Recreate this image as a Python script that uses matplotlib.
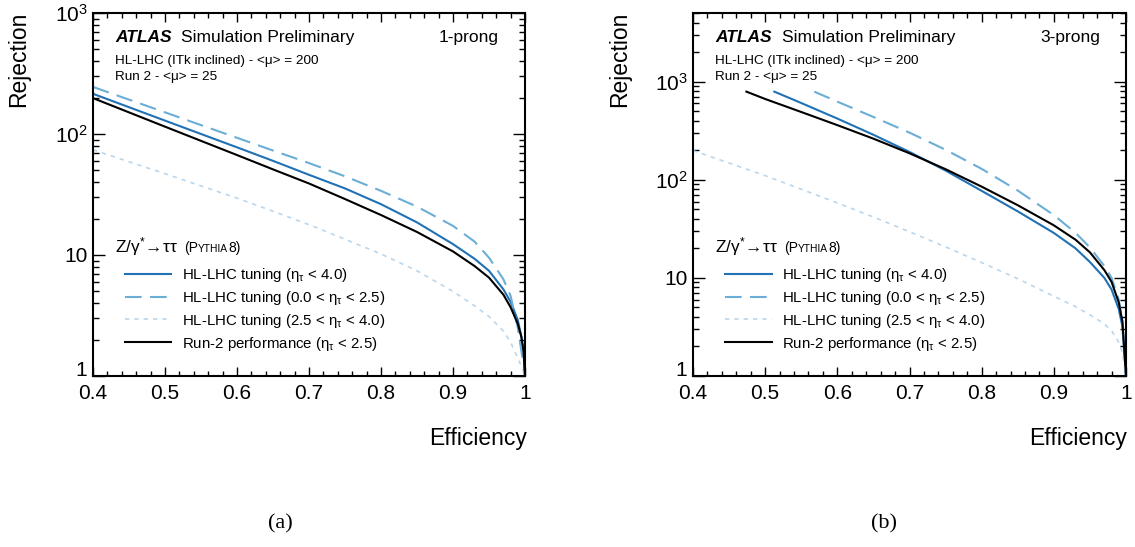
import numpy as np
import matplotlib
matplotlib.use("Agg")
import matplotlib.pyplot as plt
from matplotlib.ticker import (MultipleLocator, FixedLocator, FixedFormatter,
                               LogLocator, NullFormatter, FuncFormatter)
from matplotlib.offsetbox import TextArea, HPacker, AnnotationBbox

plt.rcParams['font.family'] = ['Liberation Sans', 'DejaVu Sans']
plt.rcParams['mathtext.fontset'] = 'custom'
plt.rcParams['mathtext.rm'] = 'Liberation Sans'
plt.rcParams['mathtext.it'] = 'Liberation Sans:italic'
plt.rcParams['mathtext.bf'] = 'Liberation Sans:bold'

# ---------------- data: (a) 1-prong ----------------
eff_a = [0.40, 0.50, 0.60, 0.65, 0.70, 0.75, 0.80, 0.85, 0.90, 0.93, 0.95,
         0.97, 0.98, 0.99, 0.995, 0.998, 1.0]
a_hl_all = [215, 129, 77.6, 60, 46, 35.5, 26.3, 18.6, 12.3, 9.3, 7.4,
            5.2, 4.1, 2.9, 2.1, 1.6, 1.0]
a_hl_central = [245, 151, 93, 73, 57.5, 44.7, 33.9, 25.1, 17.4, 12.9, 9.5,
                6.3, 4.6, 2.5, 1.6, 1.25, 1.0]
a_hl_forward = [74, 47, 29.5, 23, 17.8, 13.5, 10.2, 7.4, 5.0, 3.8, 3.1,
                2.35, 1.9, 1.4, 1.2, 1.08, 1.0]
a_run2 = [198, 115, 67, 51, 39, 29, 21.4, 15.5, 10.7, 8.1, 6.5,
          4.7, 3.7, 2.7, 2.1, 1.6, 1.0]

# ---------------- data: (b) 3-prong ----------------
b_eff_hl_all = [0.5127, 0.55, 0.60, 0.65, 0.70, 0.75, 0.80, 0.85, 0.90, 0.93,
                0.95, 0.97, 0.98, 0.99, 0.995, 1.0]
b_hl_all = [790, 605, 420, 287, 192, 124, 77, 47.6, 28.7, 20,
            14.5, 10, 7.6, 4.8, 3.2, 1.0]
b_eff_hl_central = [0.568, 0.60, 0.65, 0.70, 0.75, 0.80, 0.85, 0.90, 0.93,
                    0.95, 0.97, 0.98, 0.99, 0.995, 1.0]
b_hl_central = [790, 625, 436, 302, 202, 129, 77.6, 43.6, 28.8,
                20.4, 13.2, 10, 6, 3.6, 1.0]
b_eff_hl_forward = [0.40, 0.45, 0.50, 0.55, 0.60, 0.65, 0.70, 0.75, 0.80, 0.85,
                    0.90, 0.93, 0.95, 0.97, 0.98, 0.99, 0.995, 1.0]
b_hl_forward = [198, 148, 110, 80, 58, 41.7, 29.5, 20.7, 14.3, 9.8,
                6.5, 5.1, 4.2, 3.4, 2.9, 2.2, 1.75, 1.0]
b_eff_run2 = [0.474, 0.50, 0.55, 0.60, 0.65, 0.70, 0.75, 0.80, 0.85, 0.90,
              0.93, 0.95, 0.97, 0.98, 0.99, 0.995, 1.0]
b_run2 = [790, 665, 490, 360, 262, 186, 128, 85, 55, 34.3,
          24.5, 18.2, 12, 9.1, 5.6, 3.6, 1.0]

labels = ['HL-LHC tuning (η$_{\\mathregular{τ}}$ < 4.0)',
          'HL-LHC tuning (0.0 < η$_{\\mathregular{τ}}$ < 2.5)',
          'HL-LHC tuning (2.5 < η$_{\\mathregular{τ}}$ < 4.0)',
          'Run-2 performance (η$_{\\mathregular{τ}}$ < 2.5)']
ytick_vals = [1, 10, 100, 1000]
ytick_labels = ['1', '10', r'$\mathregular{10^{2}}$', r'$\mathregular{10^{3}}$']
prong_labels = ['1-prong', '3-prong']
captions = ['(a)', '(b)']

c_all = '#2171b5'
c_central = '#6baed6'
c_forward = '#bad6ec'
c_run2 = 'black'

W, H = 1135, 547
fig = plt.figure(figsize=(W / 100, H / 100), dpi=100)
ax1 = fig.add_axes([93 / W, (H - 376) / H, 432 / W, 363 / H])
ax2 = fig.add_axes([693 / W, (H - 376) / H, 433 / W, 363 / H])

LEG_FS = 10.8


def draw(ax, series, ymax, prong):
    (x1, y1), (x2, y2), (x3, y3), (x4, y4) = series
    h1, = ax.plot(x1, y1, color=c_all, lw=1.5)
    h2, = ax.plot(x2, y2, color=c_central, lw=1.5, dashes=(8, 4))
    h3, = ax.plot(x3, y3, color=c_forward, lw=1.2, dashes=(2.6, 3.0))
    h4, = ax.plot(x4, y4, color=c_run2, lw=1.5)
    handles = [h1, h2, h3, h4]

    ax.set_yscale('log')
    ax.set_xlim(0.4, 1.0)
    ax.set_ylim(1, ymax)
    ax.xaxis.set_major_locator(MultipleLocator(0.1))
    ax.xaxis.set_minor_locator(MultipleLocator(0.02))
    ax.xaxis.set_major_formatter(FuncFormatter(lambda v, p: '%g' % round(v, 3)))
    ax.yaxis.set_major_locator(FixedLocator(ytick_vals))
    ax.yaxis.set_major_formatter(FixedFormatter(ytick_labels))
    ax.yaxis.set_minor_locator(LogLocator(base=10, subs=np.arange(2, 10)))
    ax.yaxis.set_minor_formatter(NullFormatter())
    ax.tick_params(axis='both', which='both', direction='in', top=True, right=True)
    ax.tick_params(axis='x', which='major', length=6.5, width=1.0, labelsize=15, pad=6)
    ax.tick_params(axis='x', which='minor', length=3.6, width=1.0)
    ax.tick_params(axis='y', which='major', length=8.6, width=1.0, labelsize=15, pad=4)
    ax.tick_params(axis='y', which='minor', length=4.3, width=1.0)
    for s in ax.spines.values():
        s.set_linewidth(1.5)
    # lowest y label sits on its tick (ROOT style), clear of the x labels
    ax.yaxis.get_major_ticks()[0].label1.set_verticalalignment('baseline')

    # ATLAS label
    ax.text(0.051, 0.921, 'ATLAS', transform=ax.transAxes, fontsize=12.5,
            fontweight='bold', fontstyle='italic', va='baseline', ha='left')
    ax.text(0.2045, 0.921, 'Simulation Preliminary', transform=ax.transAxes,
            fontsize=12.5, va='baseline', ha='left')
    ax.text(0.940, 0.921, prong, transform=ax.transAxes, fontsize=12.5,
            va='baseline', ha='right')
    ax.text(0.051, 0.8595, 'HL-LHC (ITk inclined) - <μ> = 200', transform=ax.transAxes,
            fontsize=9.7, va='baseline', ha='left')
    ax.text(0.051, 0.8154, 'Run 2 - <μ> = 25', transform=ax.transAxes,
            fontsize=9.7, va='baseline', ha='left')

    # legend header with small-caps generator name
    main = TextArea('Z/γ$^{\\mathregular{*}}\\!\\rightarrow\\!$ττ',
                    textprops=dict(fontsize=12.5))
    p1 = TextArea('(P', textprops=dict(fontsize=10))
    p2 = TextArea('YTHIA', textprops=dict(fontsize=7.4))
    p3 = TextArea('8)', textprops=dict(fontsize=10))
    gen = HPacker(children=[p1, p2, p3], align='baseline', pad=0, sep=0)
    header = HPacker(children=[main, gen], align='baseline', pad=0, sep=4)
    ab = AnnotationBbox(header, (0.051, 0.326), xycoords='axes fraction',
                        box_alignment=(0, 0), frameon=False, pad=0)
    ax.add_artist(ab)

    ax.legend(handles, labels, loc='upper left', bbox_to_anchor=(0.074, 0.3035),
              frameon=False, fontsize=LEG_FS, handlelength=3.1, handletextpad=0.67,
              labelspacing=0.33, borderpad=0, borderaxespad=0)


draw(ax1, [(eff_a, a_hl_all), (eff_a, a_hl_central), (eff_a, a_hl_forward),
           (eff_a, a_run2)], 1000, prong_labels[0])
draw(ax2, [(b_eff_hl_all, b_hl_all), (b_eff_hl_central, b_hl_central),
           (b_eff_hl_forward, b_hl_forward), (b_eff_run2, b_run2)], 5000, prong_labels[1])

# axis titles (ROOT style: top / right aligned)
for xl, xr in [(19, 527), (620, 1127)]:
    fig.text(xl / W, (H - 12) / H, 'Rejection', rotation=90, ha='center', va='top',
             fontsize=16.5)
    fig.text(xr / W, (H - 445) / H, 'Efficiency', ha='right', va='baseline',
             fontsize=16.5)

for xc, cap in zip([280, 884], captions):
    fig.text(xc / W, (H - 524) / H, cap, ha='center', va='center',
             family='Liberation Serif', fontsize=16)

fig.savefig('out.png', dpi=100)
